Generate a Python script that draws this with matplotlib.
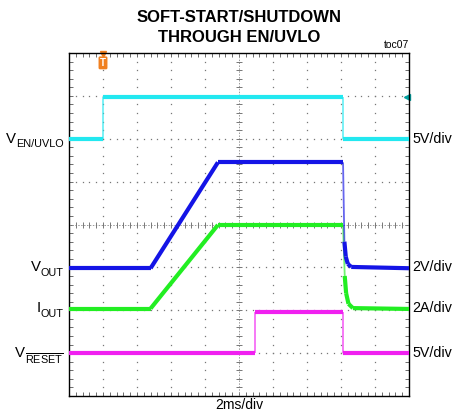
import numpy as np
import matplotlib
matplotlib.use("Agg")
import matplotlib.pyplot as plt
from matplotlib.transforms import offset_copy

plt.rcParams['font.family'] = ['Liberation Sans', 'DejaVu Sans']
plt.rcParams['mathtext.fontset'] = 'custom'
plt.rcParams['mathtext.rm'] = 'Liberation Sans'
plt.rcParams['mathtext.it'] = 'Liberation Sans'

# ---- data (x in divisions of 2ms, y in screen divisions) ----
en_t = [0.0, 1.0, 1.0, 8.05, 8.05, 10.0]
en_v = [6.0, 6.0, 6.97, 6.97, 6.0, 6.0]

vout_t = [0.0, 2.40, 4.38, 8.06, 8.08, 8.10, 8.14, 8.20, 8.30, 10.0]
vout_v = [2.98, 2.98, 5.45, 5.45, 4.5, 3.6, 3.25, 3.08, 3.01, 2.98]

iout_t = [0.0, 2.40, 4.38, 8.06, 8.08, 8.11, 8.15, 8.22, 8.35, 10.0]
iout_v = [2.04, 2.04, 3.99, 3.99, 3.5, 2.8, 2.4, 2.15, 2.05, 2.03]

rst_t = [0.0, 5.48, 5.48, 8.06, 8.06, 10.0]
rst_v = [1.0, 1.0, 1.97, 1.97, 1.0, 1.0]

left_main = ['V', 'V', 'I', 'V']
left_sub = ['EN/UVLO', 'OUT', 'OUT', r'$\overline{\mathrm{RESET}}$']
right_labels = ['5V/div', '2V/div', '2A/div', '5V/div']
label_levels = [6.0, 3.0, 2.05, 1.0]
colors = ['#22E8F0', '#1414E6', '#22EE22', '#F020F0']
title_lines = ['SOFT-START/SHUTDOWN', 'THROUGH EN/UVLO']

fig = plt.figure(figsize=(4.54, 4.12), dpi=100)
ax = fig.add_axes([69/454, 1-396/412, 340/454, 343/412])
ax.set_xlim(0, 10)
ax.set_ylim(0, 8)

# graticule dots
minor = np.arange(0, 10.001, 0.2)
minor_y = np.arange(0, 8.001, 0.2)
for yy in range(1, 8):
    if yy == 4:
        continue
    ax.plot(minor, np.full_like(minor, yy), ls='none', marker='s', ms=0.9,
            color='#777777', mew=0)
for xx in range(1, 10):
    if xx == 5:
        continue
    ax.plot(np.full_like(minor_y, xx), minor_y, ls='none', marker='s', ms=0.9,
            color='#777777', mew=0)
# center cross
ax.plot([0, 10], [4, 4], ls=(0, (1.5, 1.5)), color='#999999', lw=0.7)
ax.plot([5, 5], [0, 8], ls=(0, (1.5, 1.5)), color='#999999', lw=0.7)
ax.plot(minor, np.full_like(minor, 4), ls='none', marker='|', ms=4,
        color='#777777', mew=0.7)
ax.plot(np.full_like(minor_y, 5), minor_y, ls='none', marker='_', ms=4,
        color='#777777', mew=0.7)

# traces
def draw(t, v, c):
    t = np.asarray(t); v = np.asarray(v)
    for i in range(len(t) - 1):
        dt = abs(t[i+1] - t[i]); dv = abs(v[i+1] - v[i])
        steep = dt < 1e-9 or dv / dt > 15
        ax.plot(t[i:i+2], v[i:i+2], color=c,
                lw=1.3 if steep else 3.0,
                alpha=0.65 if steep else 1.0,
                solid_capstyle='butt', zorder=3)

draw(en_t, en_v, colors[0])
draw(rst_t, rst_v, colors[3])
draw(iout_t, iout_v, colors[2])
draw(vout_t, vout_v, colors[1])

ax.set_xticks([]); ax.set_yticks([])
ax.set_xticks(minor, minor=True)
ax.set_yticks(minor_y, minor=True)
ax.tick_params(which='minor', direction='in', length=3, width=0.6,
               top=True, right=True, color='#555555',
               labelbottom=False, labelleft=False)
for s in ax.spines.values():
    s.set_linewidth(1.0)

# markers
ax.annotate('T', xy=(1.0, 7.77), ha='center', va='center', fontsize=7,
            fontweight='bold', color='white',
            bbox=dict(boxstyle='round,pad=0.15', fc='#F08020', ec='none'),
            annotation_clip=False)
ax.plot([1.0], [7.98], marker='v', ms=4, color='#F08020', clip_on=False)
ax.plot([9.93], [6.97], marker='<', ms=5, color='#00A0A0', clip_on=False)

# left labels: main letter + larger subscript
renderer = fig.canvas.get_renderer()
for m, sb, lev in zip(left_main, left_sub, label_levels):
    tr = offset_copy(ax.transData, fig=fig, x=-4, y=-4, units='points')
    st = ax.text(0, lev, sb, ha='right', va='center', fontsize=7.8,
                 transform=tr, clip_on=False)
    w = st.get_window_extent(renderer).width * 72 / fig.dpi
    tr2 = offset_copy(ax.transData, fig=fig, x=-4 - w, y=0, units='points')
    ax.text(0, lev, m, ha='right', va='center', fontsize=10.8,
            transform=tr2, clip_on=False)

for lab, lev in zip(right_labels, label_levels):
    ax.text(10.1, lev, lab, ha='left', va='center', fontsize=10.3,
            clip_on=False)

fig.text(239/454, 1-17/412, title_lines[0], ha='center', va='center',
         fontsize=12, fontweight='bold')
fig.text(239/454, 1-38/412, title_lines[1], ha='center', va='center',
         fontsize=12, fontweight='bold')
fig.text(409/454, 1-45/412, 'toc07', ha='right', va='center', fontsize=7.5)
fig.text(239/454, 1-405/412, '2ms/div', ha='center', va='center', fontsize=10)

fig.savefig('out.png', dpi=100)
